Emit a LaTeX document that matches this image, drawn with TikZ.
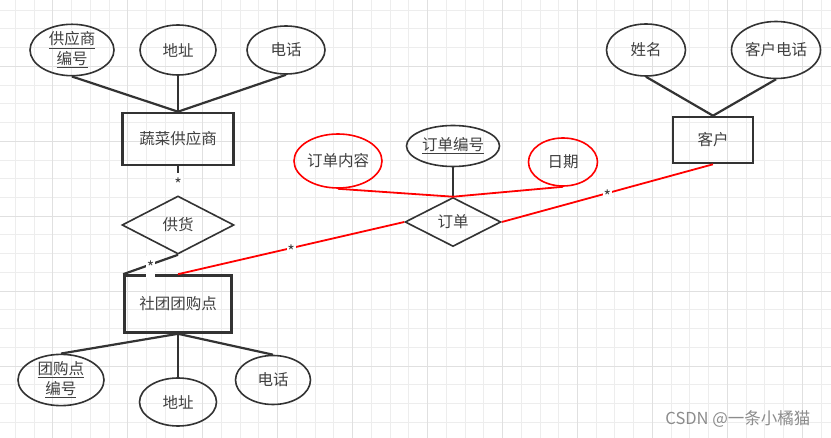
\documentclass[tikz,border=0pt]{standalone}
\usepackage{fontspec}
\setmainfont{Noto Sans CJK SC}
\usetikzlibrary{shapes.geometric}
\definecolor{lgray}{HTML}{333333}
\definecolor{tgray}{HTML}{404040}
\definecolor{gminor}{HTML}{EDEDED}
\definecolor{gmajor}{HTML}{E0E0E0}
\definecolor{wmark}{HTML}{8C8C8C}
\tikzset{
  attr/.style={ellipse,draw=lgray,line width=1.6pt,inner sep=0pt,text=tgray,align=center,font=\fontsize{15.5}{20}\selectfont},
  redattr/.style={attr,draw=red},
  ent/.style={rectangle,draw=lgray,line width=2.6pt,inner sep=0pt,text=tgray,font=\fontsize{15.5}{20}\selectfont},
  rel/.style={diamond,draw=lgray,line width=1.6pt,inner sep=0pt,text=tgray,font=\fontsize{15.5}{20}\selectfont},
  link/.style={draw=lgray,line width=2.2pt},
  redlink/.style={draw=red,line width=1.8pt},
  mult/.style={fill=white,inner sep=0pt,minimum width=9pt,minimum height=22pt,text=tgray,font=\fontsize{16}{16}\selectfont,yshift=-3pt}
}
\begin{document}
\begin{tikzpicture}[x=1pt,y=-1pt]
\useasboundingbox[fill=white] (0,0) rectangle (831,438);
\foreach \i in {0,...,43} \draw[gminor,line width=0.8pt] ({15.2+\i*18.74},0) -- ({15.2+\i*18.74},438);
\foreach \j in {0,...,22} \draw[gminor,line width=0.8pt] (0,{10+\j*18.74}) -- (831,{10+\j*18.74});
\foreach \i in {2,6,...,42} \draw[gmajor,line width=0.8pt] ({15.2+\i*18.74},0) -- ({15.2+\i*18.74},438);
\foreach \j in {3,7,...,19} \draw[gmajor,line width=0.8pt] (0,{10+\j*18.74}) -- (831,{10+\j*18.74});

\node[ent,minimum width=111pt,minimum height=52pt] (sup) at (178,139) {蔬菜供应商};
\node[attr,minimum width=84pt,minimum height=51pt] (supno) at (72,50) {\underline{供应商}\\\underline{编号}};
\node[attr,minimum width=76pt,minimum height=50pt] (supaddr) at (178,50) {地址};
\node[attr,minimum width=78pt,minimum height=48pt] (suptel) at (286,50) {电话};
\draw[link] (supno.south) -- (sup.north);
\draw[link] (supaddr.south) -- (sup.north);
\draw[link] (suptel.south) -- (sup.north);

\node[rel,minimum width=112pt,minimum height=58pt] (supply) at (178,225) {供货};
\node[ent,minimum width=107pt,minimum height=57pt] (grp) at (178,304) {社团团购点};
\node[attr,minimum width=86pt,minimum height=49pt] (grpno) at (61,380) {\underline{团购点}\\\underline{编号}};
\node[attr,minimum width=77pt,minimum height=48pt] (grpaddr) at (178,402) {地址};
\node[attr,minimum width=75pt,minimum height=49pt] (grptel) at (273,380) {电话};
\draw[link] (grp.south) -- (grpno.north);
\draw[link] (grp.south) -- (grpaddr.north);
\draw[link] (grp.south) -- (grptel.north);

\node[rel,minimum width=96pt,minimum height=49pt] (ord) at (453,222) {订单};
\node[attr,minimum width=93pt,minimum height=41pt] (ordno) at (453,146) {\underline{订单编号}};
\node[redattr,minimum width=88pt,minimum height=54pt] (ordcont) at (338,161) {订单内容};
\node[redattr,minimum width=69pt,minimum height=48pt] (orddate) at (563,162) {日期};
\draw[link] (ordno.south) -- (ord.north);
\draw[redlink] (ordcont.south) -- (ord.north);
\draw[redlink] (orddate.south) -- (ord.north);

\node[ent,minimum width=80pt,minimum height=46pt] (cust) at (713,140) {客户};
\node[attr,minimum width=79pt,minimum height=52pt] (custname) at (646,50) {姓名};
\node[attr,minimum width=89pt,minimum height=57pt] (custtel) at (776,50) {客户电话};
\draw[link] (custname.south) -- (cust.north);
\draw[link] (custtel.south) -- (cust.north);

\draw[link] (sup.south) -- node[mult] {*} (supply.north);
\draw[link] (supply.south) -- node[mult] {*} (grp.north west);
\draw[redlink] (grp.north) -- node[mult] {*} (ord.west);
\draw[redlink] (ord.east) -- node[mult] {*} (cust.south);

\node[text=wmark,font=\fontsize{16.5}{16.5}\selectfont,anchor=east] (csdn) at (814,419) {CSDN @一条小橘猫};
\end{tikzpicture}
\end{document}
